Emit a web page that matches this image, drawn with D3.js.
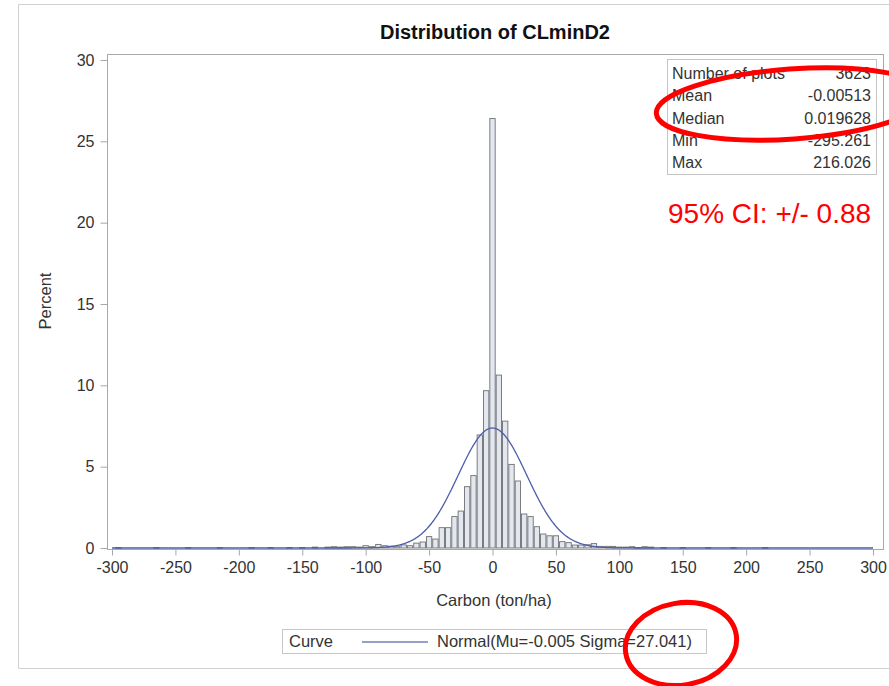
<!DOCTYPE html>
<html>
<head>
<meta charset="utf-8">
<script src="https://cdn.jsdelivr.net/npm/d3@7"></script>
<style>
html,body{margin:0;padding:0;background:#fff;}
svg{display:block;font-family:"Liberation Sans",Arial,sans-serif;}
</style>
</head>
<body>
<svg id="chart" width="889" height="686"></svg>
<script>
// ---- data ----
const binMid = [-295,-265,-240,-215,-190,-175,-160,-150,-140,-130,-125,-120,-115,-110,-105,-100,-95,-90,-85,-80,-75,-70,-65,-60,-55,-50,-45,-40,-35,-30,-25,-20,-15,-10,-5,0,5,10,15,20,25,30,35,40,45,50,55,60,65,70,75,80,85,90,95,100,105,110,115,120,125,135,150,170,190,215];
const binPct = [0.028,0.028,0.028,0.028,0.028,0.028,0.028,0.028,0.055,0.055,0.08,0.055,0.08,0.08,0.055,0.14,0.08,0.22,0.14,0.11,0.08,0.19,0.14,0.30,0.37,0.70,0.55,1.25,1.25,1.93,2.27,3.77,4.45,6.95,9.67,26.4,10.63,7.8,5.14,4.12,2.09,1.93,1.31,0.86,0.75,0.75,0.39,0.33,0.18,0.18,0.20,0.27,0.10,0.10,0.10,0.055,0.055,0.08,0.028,0.08,0.055,0.028,0.028,0.028,0.028,0.028];
const binWidth = 5;
const xTicks = [-300,-250,-200,-150,-100,-50,0,50,100,150,200,250,300];
const yTicks = [0,5,10,15,20,25,30];
const statLabels = ["Number of plots","Mean","Median","Min","Max"];
const statValues = ["3623","-0.00513","0.019628","-295.261","216.026"];
const mu = -0.005, sigma = 27.041;
const titleText = "Distribution of CLminD2";
const xLabel = "Carbon (ton/ha)";
const yLabel = "Percent";
const legendTitle = "Curve";
const legendText = "Normal(Mu=-0.005 Sigma=27.041)";
const annotation = "95% CI: +/- 0.88";

// ---- drawing ----
const svg = d3.select("#chart");
const frame = {l:107, r:883, t:54, b:549};
const x = d3.scaleLinear().domain([-300,300]).range([112,873]);
const y = d3.scaleLinear().domain([0,30]).range([548,60]);
const txt = "#333";
const axisCol = "#a8a8a8";

// outer border
svg.append("path").attr("d","M889,4.5H18.5V668.5H889").attr("fill","none").attr("stroke","#d0d0d0");

// title
svg.append("text").attr("x",(frame.l+frame.r)/2).attr("y",39).attr("text-anchor","middle")
  .attr("font-size",20).attr("font-weight","bold").attr("fill","#111").text(titleText);

// plot frame
svg.append("rect").attr("x",frame.l+0.5).attr("y",frame.t+0.5).attr("width",frame.r-frame.l).attr("height",frame.b-frame.t)
  .attr("fill","#fff").attr("stroke",axisCol);

svg.append("defs").append("clipPath").attr("id","pc").append("rect")
  .attr("x",frame.l).attr("y",frame.t).attr("width",frame.r-frame.l).attr("height",frame.b-frame.t);

// bars
const bars = binMid.map((m,i)=>({m, v:binPct[i]}));
svg.append("g").selectAll("rect").data(bars).join("rect")
  .attr("x",d=>x(d.m-binWidth/2)+0.5)
  .attr("y",d=>y(d.v))
  .attr("width",d=>x(d.m+binWidth/2)-x(d.m-binWidth/2)-1)
  .attr("height",d=>Math.max(0.6,y(0)-y(d.v)))
  .attr("fill","#e2e7f0").attr("stroke","#6f6f6f").attr("stroke-width",0.9);

// normal curve
const curveX = d3.range(-300,300.5,0.5);
const pdf = v => binWidth*100*Math.exp(-0.5*((v-mu)/sigma)**2)/(sigma*Math.sqrt(2*Math.PI));
const curveCol = "#4d5ea8";
svg.append("path").datum(curveX).attr("clip-path","url(#pc)")
  .attr("d",d3.line().x(d=>x(d)).y(d=>y(pdf(d))))
  .attr("fill","none").attr("stroke",curveCol).attr("stroke-width",1.3);

// x axis
const xa = svg.append("g").attr("transform",`translate(0,${frame.b+0.5})`)
  .call(d3.axisBottom(x).tickValues(xTicks).tickFormat(d=>String(d)).tickSize(6).tickSizeOuter(0).tickPadding(6));
xa.select(".domain").remove();
xa.selectAll("line").attr("stroke",axisCol);
xa.selectAll("text").attr("font-size",16).attr("fill",txt).attr("font-family","Liberation Sans, Arial, sans-serif").attr("dy","0.71em");

// y axis
const ya = svg.append("g").attr("transform",`translate(${frame.l+0.5},0)`)
  .call(d3.axisLeft(y).tickValues(yTicks).tickFormat(d=>String(d)).tickSize(7).tickSizeOuter(0).tickPadding(6));
ya.select(".domain").remove();
ya.selectAll("line").attr("stroke",axisCol);
ya.selectAll("text").attr("font-size",16).attr("fill",txt).attr("font-family","Liberation Sans, Arial, sans-serif");

// axis labels
svg.append("text").attr("x",(frame.l+frame.r)/2-1).attr("y",606).attr("text-anchor","middle")
  .attr("font-size",16.5).attr("fill",txt).text(xLabel);
svg.append("text").attr("transform","translate(51,301) rotate(-90)").attr("text-anchor","middle")
  .attr("font-size",16.5).attr("fill",txt).text(yLabel);

// stats inset
svg.append("rect").attr("x",667.5).attr("y",59.5).attr("width",209).attr("height",115)
  .attr("fill","#fff").attr("stroke","#c4c4c4");
const rowBase = [79,101,123.5,146,168];
statLabels.forEach((s,i)=>{
  svg.append("text").attr("x",672).attr("y",rowBase[i]).attr("font-size",16).attr("fill",txt).text(s);
  svg.append("text").attr("x",871).attr("y",rowBase[i]).attr("text-anchor","end").attr("font-size",16).attr("fill",txt).text(statValues[i]);
});

// legend
svg.append("rect").attr("x",282.5).attr("y",629.5).attr("width",424).attr("height",24)
  .attr("fill","#fff").attr("stroke","#c8c8c8");
svg.append("text").attr("x",289).attr("y",647).attr("font-size",16.5).attr("fill",txt).text(legendTitle);
svg.append("line").attr("x1",362).attr("x2",428).attr("y1",642).attr("y2",642).attr("stroke","#7180b6").attr("stroke-width",1.3);
svg.append("text").attr("x",437).attr("y",647).attr("font-size",16.5).attr("fill",txt).text(legendText);

// red annotations
svg.append("text").attr("x",668).attr("y",223).attr("font-size",28).attr("fill","#ff0000").text(annotation);
svg.append("ellipse").attr("cx",792).attr("cy",104).attr("rx",136).attr("ry",35)
  .attr("transform","rotate(-4,792,104)").attr("fill","none").attr("stroke","#ff0000").attr("stroke-width",5);
svg.append("ellipse").attr("cx",681).attr("cy",644).attr("rx",56).attr("ry",41)
  .attr("transform","rotate(-10,681,644)").attr("fill","none").attr("stroke","#ff0000").attr("stroke-width",5);
</script>
</body>
</html>
